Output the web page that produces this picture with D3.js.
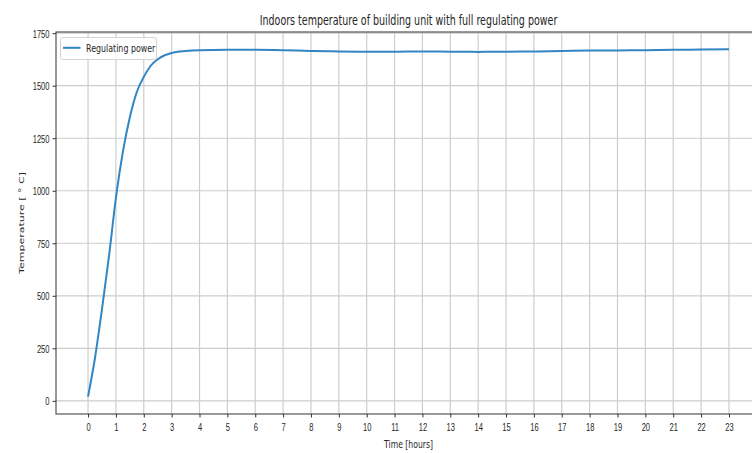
<!DOCTYPE html>
<html>
<head>
<meta charset="utf-8">
<script src="https://cdn.jsdelivr.net/npm/d3@7"></script>
<style>
  html, body { margin: 0; padding: 0; background: #fff; }
  svg { display: block; font-family: "DejaVu Sans", sans-serif; }
</style>
</head>
<body>
<svg id="chart" width="752" height="453"></svg>
<script>
// Simulated indoor temperature over one day (hours) with full regulating power
const hours = [0, 0.25, 0.5, 0.75, 1, 1.25, 1.5, 1.75, 2, 2.25, 2.5, 2.75, 3, 3.5,
               4, 5, 6, 7, 8, 9, 10, 11, 12, 13, 14, 15, 16, 17, 18, 19, 20, 21, 22, 23];
const temperature = [20, 205, 437, 687, 966, 1185, 1350, 1470, 1542, 1595, 1626, 1645, 1656, 1665,
                     1669, 1671, 1671, 1669, 1665, 1663, 1662, 1662, 1663, 1662, 1661, 1662, 1663,
                     1665, 1667, 1668, 1669, 1671, 1672, 1673];
const xTicks = d3.range(0, 24);          // 0 … 23
const yTicks = d3.range(0, 1751, 250);   // 0 … 1750
const seriesName = "Regulating power";
const titleText = "Indoors temperature of building unit with full regulating power";
const xLabel = "Time [hours]";
const yLabel = "Temperature [ ° C]";

const data = hours.map((h, i) => ({ h, t: temperature[i] }));

const S = 0.7; // horizontal text condensing
const plot = { left: 56, right: 761, top: 32, bottom: 414 };
const svg = d3.select("#chart");

// 5% margins around the data extents
const xExt = d3.extent(hours), yExt = d3.extent(temperature);
const xPad = (xExt[1] - xExt[0]) * 0.05, yPad = (yExt[1] - yExt[0]) * 0.05;
const x = d3.scaleLinear().domain([xExt[0] - xPad, xExt[1] + xPad]).range([plot.left, plot.right]);
const y = d3.scaleLinear().domain([yExt[0] - yPad, yExt[1] + yPad]).range([plot.bottom, plot.top]);

function condense(sel, tx, ty, rot) {
  sel.attr("transform", `translate(${tx},${ty}) scale(${S},1)` + (rot ? ` rotate(${rot})` : ""));
}

// grid
const grid = svg.append("g").attr("stroke", "#cdcdcd").attr("stroke-width", 1.2);
grid.selectAll("line.v").data(xTicks).join("line").attr("class", "v")
  .attr("x1", d => x(d)).attr("x2", d => x(d)).attr("y1", plot.top).attr("y2", plot.bottom);
grid.selectAll("line.h").data(yTicks).join("line").attr("class", "h")
  .attr("x1", plot.left).attr("x2", plot.right).attr("y1", d => y(d)).attr("y2", d => y(d));

// curve
const line = d3.line().x(d => x(d.h)).y(d => y(d.t)).curve(d3.curveMonotoneX);
svg.append("path").datum(data)
  .attr("fill", "none").attr("stroke", "#3286c3").attr("stroke-width", 2)
  .attr("stroke-linejoin", "round").attr("d", line);

// axes
const axColor = "#333";
const xAxis = svg.append("g").attr("transform", `translate(0,${plot.bottom})`)
  .call(d3.axisBottom(x).tickValues(xTicks).tickSize(3.5).tickSizeOuter(0).tickFormat(d3.format("d")));
xAxis.select(".domain").remove();
xAxis.selectAll(".tick line").attr("stroke", axColor);
xAxis.selectAll(".tick text").attr("y", null).attr("dy", null)
  .attr("font-size", 10.8).attr("fill", "#262626").attr("text-anchor", "middle")
  .each(function () { condense(d3.select(this), 0, 17.3); });

const yAxis = svg.append("g").attr("transform", `translate(${plot.left},0)`)
  .call(d3.axisLeft(y).tickValues(yTicks).tickSize(3.5).tickSizeOuter(0).tickFormat(d3.format("d")));
yAxis.select(".domain").remove();
yAxis.selectAll(".tick line").attr("stroke", axColor);
yAxis.selectAll(".tick text").attr("x", null).attr("dy", "0.36em")
  .attr("font-size", 10.8).attr("fill", "#262626").attr("text-anchor", "end")
  .each(function () { condense(d3.select(this), -6.5, 0); });

// spines
const spines = svg.append("g").attr("stroke", axColor).attr("stroke-width", 1).attr("fill", "none");
spines.append("rect").attr("x", plot.left).attr("y", plot.top)
  .attr("width", plot.right - plot.left).attr("height", plot.bottom - plot.top);

// legend
const lg = svg.append("g");
lg.append("rect").attr("x", 60.5).attr("y", 37.5).attr("width", 96).attr("height", 22)
  .attr("rx", 2.5).attr("fill", "#fff").attr("fill-opacity", 0.85)
  .attr("stroke", "#d4d4d4").attr("stroke-width", 1);
lg.append("line").attr("x1", 63).attr("x2", 80.5).attr("y1", 47.8).attr("y2", 47.8)
  .attr("stroke", "#3286c3").attr("stroke-width", 2);
lg.append("text").text(seriesName).attr("font-size", 11.3).attr("fill", "#262626")
  .call(s => condense(s, 86, 52));

// title and axis labels
svg.append("text").text(titleText).attr("font-size", 13.6).attr("fill", "#262626")
  .attr("text-anchor", "middle").call(s => condense(s, (plot.left + plot.right) / 2, 25));
svg.append("text").text(xLabel).attr("font-size", 11).attr("fill", "#262626")
  .attr("text-anchor", "middle").call(s => condense(s, (plot.left + plot.right) / 2, 448));
svg.append("text").text(yLabel).attr("font-size", 11).attr("fill", "#262626")
  .attr("text-anchor", "middle").call(s => condense(s, 23.5, (plot.top + plot.bottom) / 2, -90));
</script>
</body>
</html>
